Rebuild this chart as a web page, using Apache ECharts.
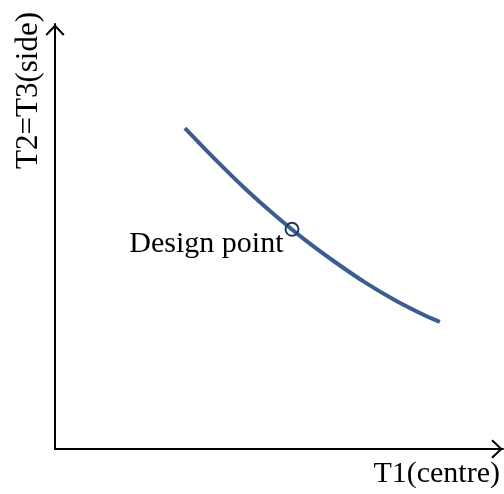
<!DOCTYPE html>
<html>
<head>
<meta charset="utf-8">
<script src="https://cdn.jsdelivr.net/npm/echarts@6/dist/echarts.min.js"></script>
<style>html,body{margin:0;padding:0;background:#fff;}#c{width:504px;height:494px;}</style>
</head>
<body>
<div id="c"></div>
<script>
// Curve T2=T3 (side) versus T1 (centre), arbitrary units 0..10
const curveT1 = [2.90, 3.57, 4.24, 4.91, 5.58, 6.25, 6.92, 7.59, 8.26, 8.59];
const curveT2 = [7.55, 6.82, 6.13, 5.50, 4.92, 4.40, 3.92, 3.50, 3.14, 2.99];
const designPoint = [5.29, 5.17];
const designLabel = 'Design point';
const xName = 'T1(centre)';
const yName = 'T2=T3(side)';

const chevron = 'path://M10,0 L20,10.4 L18.5,12 L10,3 L1.5,12 L0,10.4 Z';
const font = '"Liberation Serif", "Times New Roman", serif';

const chart = echarts.init(document.getElementById('c'), null, {renderer: 'canvas'});
chart.setOption({
  animation: false,
  backgroundColor: '#ffffff',
  grid: {left: 55, right: 1, top: 24, bottom: 45, containLabel: false},
  xAxis: {
    type: 'value', min: 0, max: 10,
    name: xName, nameLocation: 'end', nameGap: -3,
    nameTextStyle: {fontFamily: font, fontSize: 30, color: '#000', align: 'right', verticalAlign: 'top', padding: [10, 0, 0, 0]},
    axisLine: {show: true, onZero: false, symbol: ['none', chevron], symbolSize: [19, 12], symbolOffset: [0, -6],
      lineStyle: {color: '#000', width: 2}},
    axisTick: {show: false}, axisLabel: {show: false}, splitLine: {show: false}
  },
  yAxis: {
    type: 'value', min: 0, max: 10,
    name: yName, nameLocation: 'end', nameRotate: 90, nameGap: 12,
    nameTextStyle: {fontFamily: font, fontSize: 31, color: '#000', align: 'right', verticalAlign: 'bottom', padding: [0, 0, 11, 0]},
    axisLine: {show: true, onZero: false, symbol: ['none', chevron], symbolSize: [19, 12], symbolOffset: [0, -6],
      lineStyle: {color: '#000', width: 2}},
    axisTick: {show: false}, axisLabel: {show: false}, splitLine: {show: false}
  },
  series: [
    {
      type: 'line', smooth: 0.3, showSymbol: false, silent: true, z: 2,
      data: curveT1.map((x, i) => [x, curveT2[i]]),
      lineStyle: {color: '#3b5e8f', width: 4}
    },
    {
      type: 'scatter', symbol: 'circle', symbolSize: 13, z: 3,
      data: [designPoint],
      itemStyle: {color: 'rgba(0,0,0,0)', borderColor: '#1f3a60', borderWidth: 2, opacity: 1},
      label: {show: true, formatter: designLabel, position: 'left', distance: 3, offset: [2, 15],
        fontFamily: font, fontSize: 30, color: '#000'}
    }
  ]
});
</script>
</body>
</html>
